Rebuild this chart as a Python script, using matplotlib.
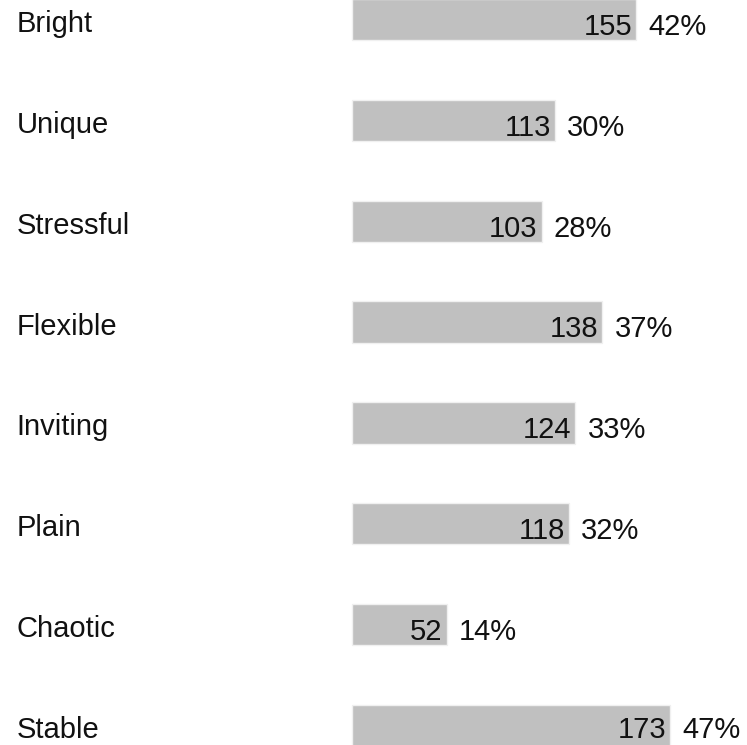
#!/usr/bin/env python3
"""
Horizontal bar chart of word choices: count inside each bar, share beside it
"""

import matplotlib

matplotlib.use("Agg")
import matplotlib.pyplot as plt

categories = ["Bright", "Unique", "Stressful", "Flexible", "Inviting", "Plain", "Chaotic", "Stable"]
counts = [155, 113, 103, 138, 124, 118, 52, 173]
percents = [42, 30, 28, 37, 33, 32, 14, 47]

plt.rcParams["font.family"] = ["Liberation Sans", "DejaVu Sans"]

fig = plt.figure(figsize=(7.47, 7.45), dpi=100)
ax = fig.add_axes([0, 0, 1, 1])

rows = list(range(len(categories)))
ax.barh(rows, percents, height=0.41, color="#c0c0c0", edgecolor="#f0f0f0", linewidth=1)

# bar origin sits at about 352 px, roughly 6.77 px per percent
px_per_unit = 6.77
ax.set_xlim(-352 / px_per_unit, (747 - 352) / px_per_unit)
# row centres at about 19.7 px + 100.8 px per row from the top
ax.set_ylim((745 - 19.7) / 100.8, -19.7 / 100.8)
ax.axis("off")

fs = 21
for i, (name, n, pct) in enumerate(zip(categories, counts, percents)):
    # the last row sits on the bottom edge, so its numbers are nudged up a little
    dy = -13.0 if i == len(categories) - 1 else -15.3
    ax.annotate(name, xy=(0.022, i), xycoords=ax.get_yaxis_transform(),
                xytext=(0, -12.5), textcoords="offset pixels",
                ha="left", va="baseline", fontsize=fs, color="#111111")
    ax.annotate(str(n), xy=(pct, i), xytext=(-4, dy), textcoords="offset pixels",
                ha="right", va="baseline", fontsize=fs, color="#111111")
    ax.annotate(f"{pct}%", xy=(pct, i), xytext=(12, dy), textcoords="offset pixels",
                ha="left", va="baseline", fontsize=fs, color="#111111")

fig.savefig("out.png", dpi=100)
